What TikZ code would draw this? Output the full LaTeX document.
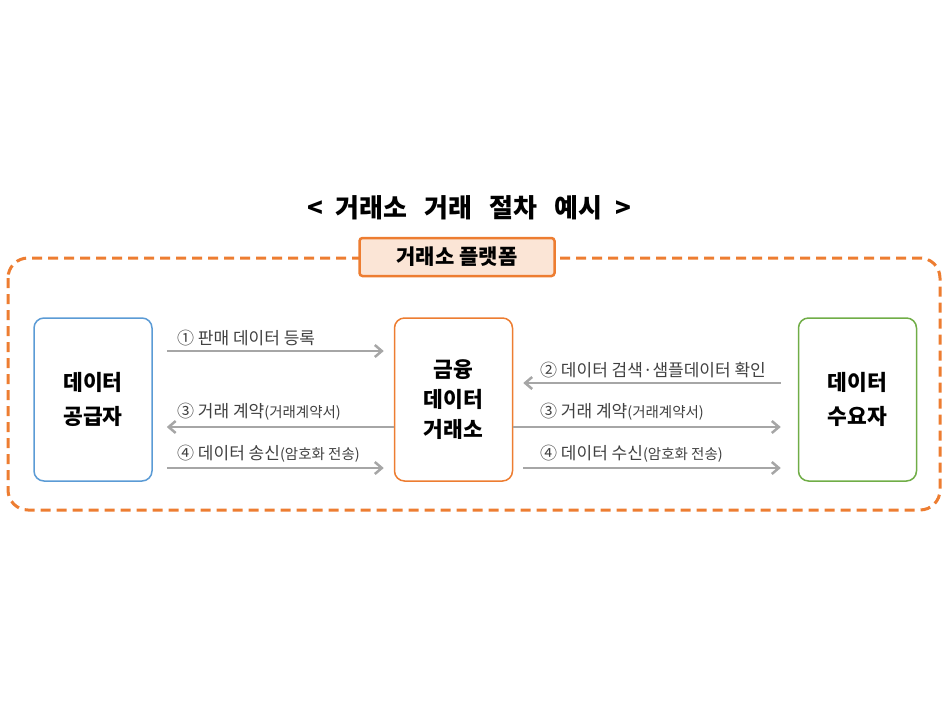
\documentclass[tikz,border=0pt]{standalone}
\usepackage{fontspec}
\setmainfont{Noto Sans CJK KR}
\usetikzlibrary{arrows.meta}
\definecolor{korange}{HTML}{ED7D31}
\definecolor{kpeach}{HTML}{FBE5D6}
\definecolor{kblue}{HTML}{5B9BD5}
\definecolor{kgreen}{HTML}{70AD47}
\definecolor{kgray}{HTML}{A6A6A6}
\definecolor{ktext}{HTML}{404040}
\newcommand{\sm}[1]{{\fontsize{14.5}{14.5}\selectfont #1}}
\begin{document}
\begin{tikzpicture}[x=1pt, y=-1pt,
    every node/.style={rounded corners=10pt},
    party/.style={draw, line width=1.5pt, minimum width=118pt, minimum height=163pt,
      align=center, font=\bfseries\fontsize{21.5}{34}\selectfont},
    lbl/.style={anchor=west, text=ktext, inner sep=0pt, font=\fontsize{17}{17}\selectfont},
    flow/.style={draw=kgray, line width=2.5pt, -{Straight Barb[length=7pt, width=12pt]}}]
  \useasboundingbox (0,0) rectangle (943,707);
  \node[font=\bfseries\fontsize{26}{26}\selectfont] (title) at (469,208)
    {<\hspace{13pt}거래소\hspace{17pt}거래\hspace{17pt}절차\hspace{17pt}예시\hspace{13pt}>};
  \draw[korange, line width=3pt, dash pattern=on 10pt off 6pt, rounded corners=20pt] (8,258) rectangle (940,510);
  \node[draw=korange, fill=kpeach, line width=2.5pt, rounded corners=3pt, minimum width=195pt,
    minimum height=38pt, font=\bfseries\fontsize{21}{21}\selectfont] (plat) at (457,257) {거래소 플랫폼};
  \node[party, draw=kblue] (sup) at (93,399.5) {데이터\\공급자};
  \node[party, draw=korange, font=\bfseries\fontsize{21.5}{30}\selectfont] (exc) at (453.5,399.5) {금융\\데이터\\거래소};
  \node[party, draw=kgreen] (dem) at (857.5,399.5) {데이터\\수요자};
  \draw[flow] ([shift={(14,-48.5)}]sup.east) -- ([shift={(-10,-48.5)}]exc.west);
  \draw[flow] ([shift={(0,27.5)}]exc.west) -- ([shift={(14,27.5)}]sup.east);
  \draw[flow] ([shift={(14,68.5)}]sup.east) -- ([shift={(-10,68.5)}]exc.west);
  \draw[flow] ([shift={(-17,-16.5)}]dem.west) -- ([shift={(10,-16.5)}]exc.east);
  \draw[flow] ([shift={(0,27.5)}]exc.east) -- ([shift={(-17,27.5)}]dem.west);
  \draw[flow] ([shift={(10,68.5)}]exc.east) -- ([shift={(-17,68.5)}]dem.west);
  \node[lbl] (l1) at (177,338) {① 판매 데이터 등록};
  \node[lbl] (l3a) at (177,412) {③ 거래 계약\sm{(거래계약서)}};
  \node[lbl] (l4a) at (177,454) {④ 데이터 송신\sm{(암호화 전송)}};
  \node[lbl] (l2) at (540,370) {② 데이터 검색·샘플데이터 확인};
  \node[lbl] (l3b) at (540,412) {③ 거래 계약\sm{(거래계약서)}};
  \node[lbl] (l4b) at (540,454) {④ 데이터 수신\sm{(암호화 전송)}};
\end{tikzpicture}
\end{document}
